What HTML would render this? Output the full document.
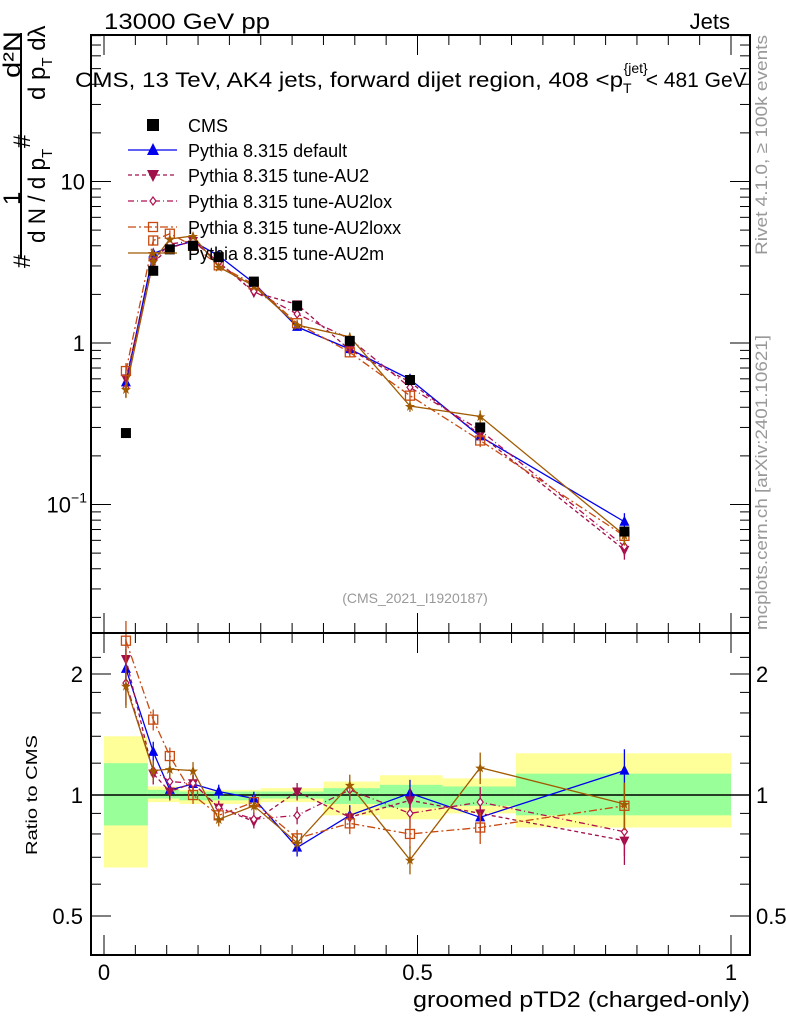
<!DOCTYPE html>
<html><head><meta charset="utf-8"><style>
body{margin:0;background:#fff;}
svg{display:block;font-family:"Liberation Sans",sans-serif;}
</style></head><body>
<svg id="c" width="786" height="1024" xmlns="http://www.w3.org/2000/svg">
<rect width="786" height="1024" fill="#fff"/>
<g id="bands"></g>
<g id="main"></g>
<g id="ratio"></g>
<g id="axes"></g>
<text x="104" y="29" font-size="22" textLength="166" lengthAdjust="spacingAndGlyphs">13000 GeV pp</text>
<text x="730" y="29" font-size="22" text-anchor="end">Jets</text>
<text x="75" y="87" font-size="21"><tspan textLength="548" lengthAdjust="spacingAndGlyphs">CMS, 13 TeV, AK4 jets, forward dijet region, 408 &lt;p</tspan><tspan font-size="14" dy="6">T</tspan><tspan font-size="14" dy="-20" dx="-8">{jet}</tspan><tspan dy="14" dx="-2">&lt; 481 GeV</tspan></text>
<text x="415" y="603" font-size="14" fill="#999" text-anchor="middle">(CMS_2021_I1920187)</text>
<text transform="translate(767,255) rotate(-90)" font-size="17" fill="#999" textLength="220" lengthAdjust="spacingAndGlyphs">Rivet 4.1.0, ≥ 100k events</text>
<text transform="translate(767,630) rotate(-90)" font-size="17" fill="#999" textLength="295" lengthAdjust="spacingAndGlyphs">mcplots.cern.ch [arXiv:2401.10621]</text>
<text transform="translate(37,855) rotate(-90)" font-size="16" textLength="120" lengthAdjust="spacingAndGlyphs">Ratio to CMS</text>
<text x="750" y="1007" font-size="22" text-anchor="end" textLength="337" lengthAdjust="spacingAndGlyphs">groomed pTD2 (charged-only)</text>
<g font-size="24">
<line x1="21" y1="33" x2="21" y2="258" stroke="#000" stroke-width="2"/>
<text transform="translate(20,205) rotate(-90)">1</text>
<text transform="translate(20,78) rotate(-90)" textLength="47" lengthAdjust="spacingAndGlyphs">d²N</text>
<text transform="translate(30,268) rotate(-90)">#</text>
<text transform="translate(30,148) rotate(-90)">#</text>
<text transform="translate(45,243) rotate(-90)"><tspan textLength="85" lengthAdjust="spacingAndGlyphs">d N / d p</tspan><tspan font-size="15" dy="7">T</tspan></text>
<text transform="translate(45,100) rotate(-90)"><tspan>d p</tspan><tspan font-size="15" dy="7">T</tspan><tspan dy="-7"> dλ</tspan></text>
</g>
<g id="legend"></g>
</svg>
<script>
const xVals=[0.035,0.0785,0.105,0.142,0.183,0.239,0.308,0.392,0.488,0.6,0.83];
const cmsVals=[0.277,2.8,3.8,4.0,3.4,2.4,1.7,1.03,0.59,0.30,0.068];
const rDefault=[2.06,1.28,1.03,1.065,1.02,0.98,0.74,0.89,1.01,0.88,1.15];
const rAU2=[2.18,1.13,1.02,1.07,0.93,0.86,1.02,0.88,0.97,0.90,0.77];
const rAU2lox=[1.9,1.15,1.08,1.07,0.93,0.87,0.89,1.03,0.9,0.96,0.81];
const rAU2loxx=[2.42,1.54,1.25,1.0,0.89,0.96,0.78,0.85,0.80,0.83,0.94];
const rAU2m=[1.87,1.15,1.16,1.15,0.87,0.94,0.76,1.06,0.69,1.17,0.95];
const relErr=[0.12,0.06,0.05,0.05,0.04,0.04,0.05,0.06,0.08,0.09,0.13];
const binEdges=[0,0.07,0.12,0.25,0.35,0.44,0.54,0.657,1.0];
const greenLo=[0.84,0.98,0.97,0.98,0.95,0.93,0.94,0.89];
const greenHi=[1.2,1.03,1.02,1.02,1.04,1.06,1.05,1.13];
const yellowLo=[0.66,0.96,0.95,0.96,0.89,0.87,0.90,0.83];
const yellowHi=[1.4,1.05,1.03,1.04,1.08,1.12,1.10,1.27];
const xTicks=[0,0.5,1];
const xTickLabels=["0","0.5","1"];
const ratioTicks=[0.5,1,2];
const ratioTickLabels=["0.5","1","2"];

const NS="http://www.w3.org/2000/svg";
const L=91,R=750,T=35,MB=633,RB=955;
const X=v=>104+v*627;
const Y=v=>343-Math.log10(v)*161.5;
const YR=v=>795-Math.log2(v)*121;
function mk(p,tag,a){const e=document.createElementNS(NS,tag);for(const k in a)e.setAttribute(k,a[k]);p.appendChild(e);return e;}
const bands=document.getElementById('bands'),main=document.getElementById('main'),ratio=document.getElementById('ratio'),axes=document.getElementById('axes'),leg=document.getElementById('legend');

for(let i=0;i<binEdges.length-1;i++){
 let r=mk(bands,'rect',{x:X(binEdges[i]),width:X(binEdges[i+1])-X(binEdges[i]),y:YR(yellowHi[i]),height:YR(yellowLo[i])-YR(yellowHi[i]),fill:'#ffff99'});
 
 
 let g=mk(bands,'rect',{x:X(binEdges[i]),width:X(binEdges[i+1])-X(binEdges[i]),y:YR(greenHi[i]),height:YR(greenLo[i])-YR(greenHi[i]),fill:'#99ff99'});
 
 
}
mk(bands,'line',{x1:L,x2:R,y1:YR(1),y2:YR(1),stroke:'#000','stroke-width':1.5});

function marker(p,type,x,y,col,s){
 s=s||5;
 if(type==='sq')return mk(p,'rect',{x:x-s,y:y-s,width:2*s,height:2*s,fill:col});
 if(type==='up')return mk(p,'polygon',{points:`${x},${y-s-1} ${x-s},${y+s-1} ${x+s},${y+s-1}`,fill:col});
 if(type==='dn')return mk(p,'polygon',{points:`${x},${y+s+1} ${x-s},${y-s+1} ${x+s},${y-s+1}`,fill:col});
 if(type==='dia')return mk(p,'polygon',{points:`${x},${y-4} ${x-3},${y} ${x},${y+4} ${x+3},${y}`,fill:'#fff',stroke:col,'stroke-width':1.2});
 if(type==='osq')return mk(p,'rect',{x:x-4.5,y:y-4.5,width:9,height:9,fill:'none',stroke:col,'stroke-width':1.3});
 if(type==='star')return mk(p,'polygon',{points:`${x},${y-5} ${x+1.5},${y-1} ${x+5},${y-1} ${x+2},${y+1.5} ${x+3},${y+5} ${x},${y+2.5} ${x-3},${y+5} ${x-2},${y+1.5} ${x-5},${y-1} ${x-1.5},${y-1}`,fill:col});
}
const series=[
 {name:'default',label:'Pythia 8.315 default',r:rDefault,col:'#0000ee',dash:'',m:'up'},
 {name:'au2',label:'Pythia 8.315 tune-AU2',r:rAU2,col:'#a0104a',dash:'4,3',m:'dn'},
 {name:'au2lox',label:'Pythia 8.315 tune-AU2lox',r:rAU2lox,col:'#b01050',dash:'6,3,1,3',m:'dia'},
 {name:'au2loxx',label:'Pythia 8.315 tune-AU2loxx',r:rAU2loxx,col:'#c84a10',dash:'8,3,2,3',m:'osq'},
 {name:'au2m',label:'Pythia 8.315 tune-AU2m',r:rAU2m,col:'#a05a00',dash:'',m:'star'}
];
series.forEach(s=>{
 const mv=s.r.map((r,i)=>r*cmsVals[i]);
 [[main,i=>Y(mv[i]),i=>Y(mv[i]*(1+relErr[i])),i=>Y(mv[i]*(1-relErr[i]))],[ratio,i=>YR(s.r[i]),i=>YR(s.r[i]*(1+relErr[i])),i=>YR(s.r[i]*(1-relErr[i]))]].forEach(([p,fy,fh,fl])=>{
  const g=mk(p,'g',{});
  
  
  mk(g,'polyline',{points:xVals.map((x,i)=>X(x)+','+fy(i)).join(' '),fill:'none',stroke:s.col,'stroke-width':1.3,'stroke-dasharray':s.dash});
  xVals.forEach((x,i)=>{
   mk(g,'line',{x1:X(x),x2:X(x),y1:fh(i),y2:fl(i),stroke:s.col,'stroke-width':1.3});
   const m=marker(g,s.m,X(x),fy(i),s.col);
   
   
  });
 });
});
xVals.forEach((x,i)=>{
 const m=marker(main,'sq',X(x),Y(cmsVals[i]),'#000',5);
 
 
});

mk(axes,'rect',{x:L,y:T,width:R-L,height:MB-T,fill:'none',stroke:'#000','stroke-width':2});
mk(axes,'rect',{x:L,y:MB,width:R-L,height:RB-MB,fill:'none',stroke:'#000','stroke-width':2});
for(let d=-2;d<=2;d++)for(let k=1;k<10;k++){
 const v=k*Math.pow(10,d),y=Y(v);if(y<T||y>MB)continue;
 const len=k===1?20:10;
 mk(axes,'line',{x1:L,x2:L+len,y1:y,y2:y,stroke:'#000'});
 mk(axes,'line',{x1:R,x2:R-len,y1:y,y2:y,stroke:'#000'});
}
[[10,'10'],[1,'1']].forEach(([v,t])=>{const e=mk(axes,'text',{x:L-6,y:Y(v)+8,'text-anchor':'end','font-size':22});e.textContent=t;});
{const e=mk(axes,'text',{x:L-4,y:Y(0.1)+8,'text-anchor':'end','font-size':22});e.innerHTML='10<tspan font-size="14" dy="-10">−1</tspan>';}
for(let i=0;i<=20;i++){const v=i*0.05,x=X(v),len=i%10===0?20:10;
 mk(axes,'line',{x1:x,x2:x,y1:MB,y2:MB-len,stroke:'#000'});
 mk(axes,'line',{x1:x,x2:x,y1:RB,y2:RB-len,stroke:'#000'});
 mk(axes,'line',{x1:x,x2:x,y1:T,y2:T+len,stroke:'#000'});
 mk(axes,'line',{x1:x,x2:x,y1:MB,y2:MB+len,stroke:'#000'});
}
xTicks.forEach((v,i)=>{const e=mk(axes,'text',{x:X(v),y:980,'text-anchor':'middle','font-size':22});e.textContent=xTickLabels[i];});
[0.5,0.6,0.7,0.8,0.9,1,1.2,1.4,1.6,1.8,2,2.2].forEach(v=>{const y=YR(v);if(y<MB||y>RB)return;
 const len=[0.5,1,2].includes(v)?20:10;
 mk(axes,'line',{x1:L,x2:L+len,y1:y,y2:y,stroke:'#000'});
 mk(axes,'line',{x1:R,x2:R-len,y1:y,y2:y,stroke:'#000'});});
ratioTicks.forEach((v,i)=>{
 let e=mk(axes,'text',{x:L-8,y:YR(v)+8,'text-anchor':'end','font-size':22});e.textContent=ratioTickLabels[i];
 e=mk(axes,'text',{x:R+6,y:YR(v)+8,'font-size':22});e.textContent=ratioTickLabels[i];});
const ly=[125,150,175,201,227,253];
{const m=marker(leg,'sq',153,ly[0],'#000',6);
 const t=mk(leg,'text',{x:188,y:ly[0]+7,'font-size':18});t.textContent='CMS';}
series.forEach((s,i)=>{const y=ly[i+1];
 const g=mk(leg,'g',{});
 
 
 mk(g,'line',{x1:128,x2:177,y1:y,y2:y,stroke:s.col,'stroke-width':1.3,'stroke-dasharray':s.dash});
 marker(g,s.m,153,y,s.col,6);
 const t=mk(g,'text',{x:188,y:y+7,'font-size':18});t.textContent=s.label;});
</script>
</body></html>
